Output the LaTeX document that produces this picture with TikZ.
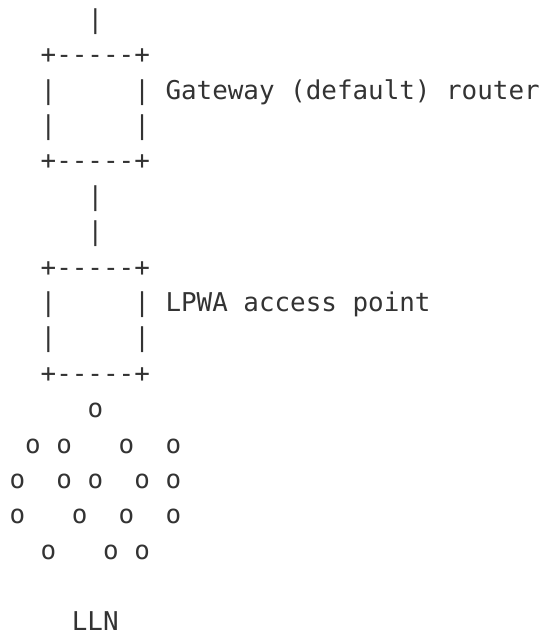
\documentclass[tikz,border=0pt]{standalone}
\usepackage{fontspec}
\newfontfamily\asciifont{DejaVu Sans Mono}
\definecolor{inkgray}{RGB}{51,51,51}
\tikzset{
  asc/.style={inner sep=0pt, outer sep=0pt, anchor=base west, text=inkgray,
    font=\asciifont\fontsize{25.9}{30}\selectfont}
}
\newcommand{\ascnode}[4]{\node[asc] (#1) at ({9.5+15.6*#2}, {-(28.2+35.4*#3)}) {#4};}
\begin{document}
\begin{tikzpicture}[x=1pt,y=1pt]
\useasboundingbox (0,0) rectangle (540,-632);
% uplink
\ascnode{uplink}{5}{0}{|}
% gateway box
\ascnode{gwtop}{2}{1}{+-----+}
\ascnode{gwlefta}{2}{2}{|}
\ascnode{gwrighta}{8}{2}{|}
\ascnode{gwlabel}{10}{2}{Gateway (default) router}
\ascnode{gwleftb}{2}{3}{|}
\ascnode{gwrightb}{8}{3}{|}
\ascnode{gwbot}{2}{4}{+-----+}
% link
\ascnode{linka}{5}{5}{|}
\ascnode{linkb}{5}{6}{|}
% access point box
\ascnode{aptop}{2}{7}{+-----+}
\ascnode{aplefta}{2}{8}{|}
\ascnode{aprighta}{8}{8}{|}
\ascnode{aplabel}{10}{8}{LPWA access point}
\ascnode{apleftb}{2}{9}{|}
\ascnode{aprightb}{8}{9}{|}
\ascnode{apbot}{2}{10}{+-----+}
% LLN nodes
\foreach \c/\r [count=\i] in {5/11, 1/12, 3/12, 7/12, 10/12,
  0/13, 3/13, 5/13, 8/13, 10/13,
  0/14, 4/14, 7/14, 10/14,
  2/15, 6/15, 8/15}{
  \ascnode{lln\i}{\c}{\r}{o}
}
\ascnode{llnlabel}{4}{17}{LLN}
\end{tikzpicture}
\end{document}
